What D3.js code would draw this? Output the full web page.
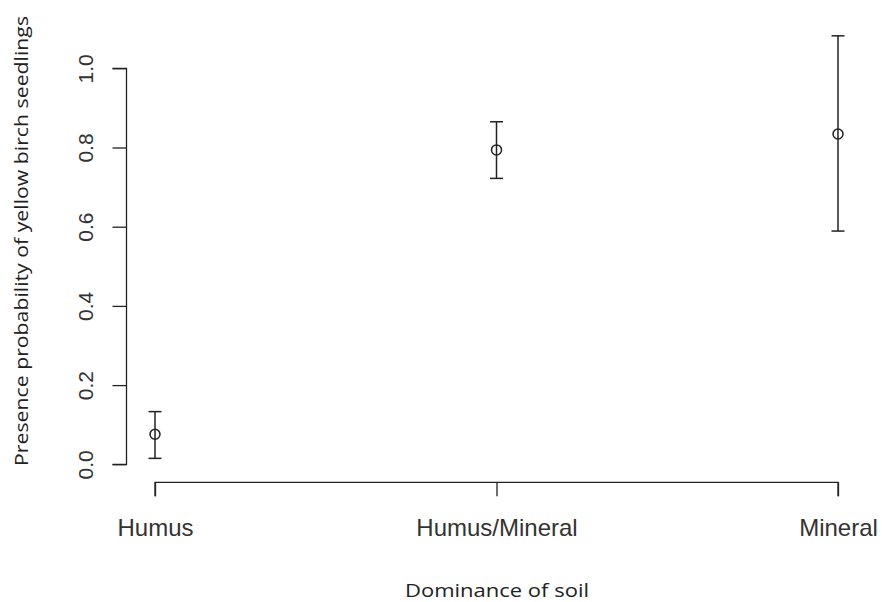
<!DOCTYPE html>
<html>
<head>
<meta charset="utf-8">
<script src="https://cdn.jsdelivr.net/npm/d3@7"></script>
<style>
  html, body { margin: 0; padding: 0; background: #fff; }
  svg { display: block; }
</style>
</head>
<body>
<svg id="chart" width="882" height="602"></svg>
<script>
// Soil dominance classes and estimated presence probability with interval bounds
const categories = ["Humus", "Humus/Mineral", "Mineral"];
const estimate   = [0.076, 0.794, 0.834];
const lower      = [0.015, 0.722, 0.589];
const upper      = [0.133, 0.865, 1.082];
const yTicks     = [0.0, 0.2, 0.4, 0.6, 0.8, 1.0];

const svg = d3.select("#chart");
const ink = "#222";

const x = d3.scalePoint().domain(categories).range([155, 838]);
const y = d3.scaleLinear().domain([0, 1]).range([464.3, 68.3]);

// Left axis (R style: detached, rotated labels)
const yAxis = svg.append("g")
  .attr("transform", "translate(126.5,0)")
  .call(d3.axisLeft(y).tickValues(yTicks).tickSize(14).tickFormat(d3.format(".1f")));
yAxis.select(".domain").attr("d", `M-14,${y(0)}H0V${y(1)}H-14`).attr("stroke", ink).attr("stroke-width", 1.3);
yAxis.selectAll(".tick line").attr("stroke", ink).attr("stroke-width", 1.3);
yAxis.selectAll(".tick text")
  .attr("transform", "rotate(-90)")
  .attr("x", 0).attr("y", -33.5)
  .attr("dy", 0)
  .attr("text-anchor", "middle")
  .attr("font-family", "'Liberation Sans', Arial, sans-serif")
  .attr("font-size", 21)
  .attr("fill", "#333");

// Bottom axis
const xAxis = svg.append("g")
  .attr("transform", "translate(0,482.3)")
  .call(d3.axisBottom(x).tickSize(14).tickSizeOuter(0));
xAxis.select(".domain").attr("d", `M${x(categories[0])},14V0H${x(categories[2])}V14`).attr("stroke", ink).attr("stroke-width", 1.3);
xAxis.selectAll(".tick line").attr("stroke", ink).attr("stroke-width", 1.3);
xAxis.selectAll(".tick text")
  .attr("y", 53.5).attr("dy", 0)
  .attr("font-family", "'Liberation Sans', Arial, sans-serif")
  .attr("font-size", 24)
  .attr("fill", "#333");

// Error bars with open circle at the estimate
const g = svg.append("g").attr("stroke", ink).attr("stroke-width", 1.5).attr("fill", "none");
categories.forEach((c, i) => {
  const cx = x(c);
  g.append("line").attr("x1", cx).attr("x2", cx).attr("y1", y(lower[i])).attr("y2", y(upper[i]));
  g.append("line").attr("x1", cx - 6.5).attr("x2", cx + 6.5).attr("y1", y(lower[i])).attr("y2", y(lower[i]));
  g.append("line").attr("x1", cx - 6.5).attr("x2", cx + 6.5).attr("y1", y(upper[i])).attr("y2", y(upper[i]));
  g.append("circle").attr("cx", cx).attr("cy", y(estimate[i])).attr("r", 5);
});

// Axis titles
svg.append("text")
  .attr("transform", "translate(28,241) rotate(-90)")
  .attr("text-anchor", "middle")
  .attr("font-family", "'Open Sans', sans-serif")
  .attr("font-size", 19)
  .attr("textLength", 450)
  .attr("lengthAdjust", "spacingAndGlyphs")
  .attr("fill", "#222")
  .text("Presence probability of yellow birch seedlings");

svg.append("text")
  .attr("x", 497).attr("y", 597)
  .attr("text-anchor", "middle")
  .attr("font-family", "'Open Sans', sans-serif")
  .attr("font-size", 19)
  .attr("textLength", 184)
  .attr("lengthAdjust", "spacingAndGlyphs")
  .attr("fill", "#222")
  .text("Dominance of soil");
</script>
</body>
</html>
